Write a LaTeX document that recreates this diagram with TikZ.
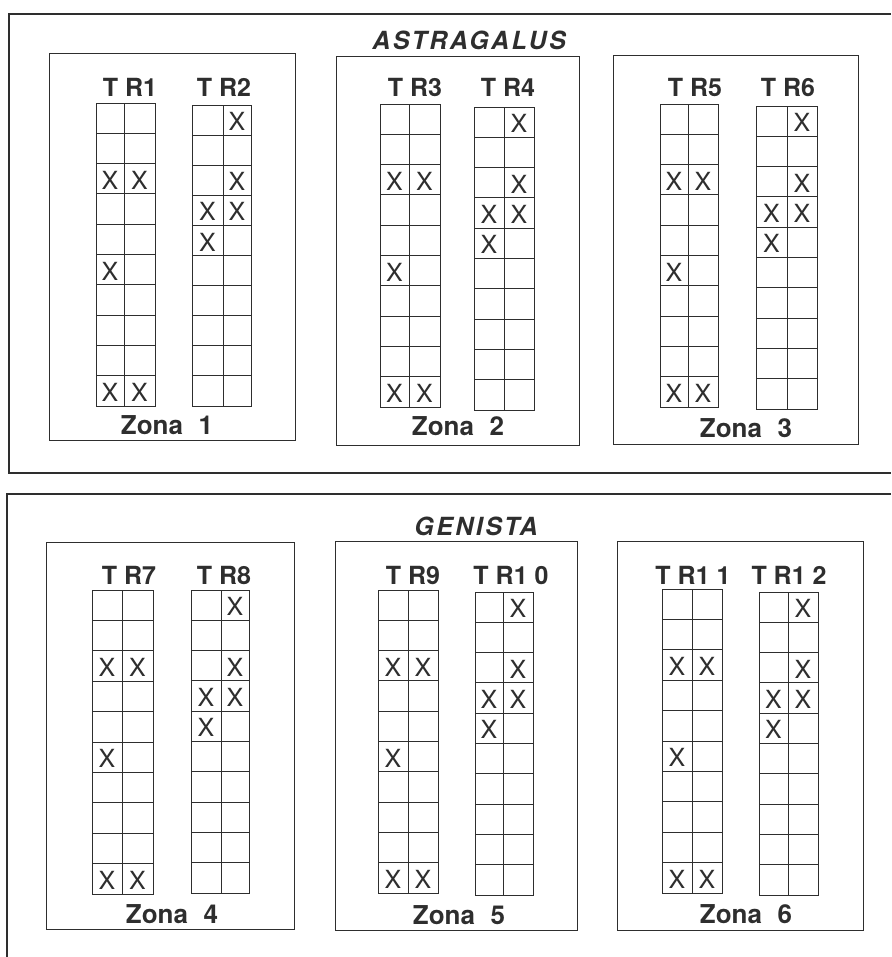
\documentclass[tikz,border=0pt]{standalone}
\usepackage{fontspec}
\setmainfont{TeX Gyre Heros}
\newfontfamily\titlefont[LetterSpace=10]{TeX Gyre Heros}
\definecolor{ink}{gray}{0.18}
\newcommand\trgrid[7]{%
  \pgfmathsetmacro\rh{(#6-#5)/10}%
  \foreach \i in {0,...,9}{%
    \draw[cellbox] (#2,{-#5-\i*\rh}) rectangle (#3,{-#5-(\i+1)*\rh});
    \draw[cellbox] (#3,{-#5-\i*\rh}) rectangle (#4,{-#5-(\i+1)*\rh});
  }%
  \foreach \r/\c in #7{%
    \pgfmathsetmacro\cx{ifthenelse(\c==0,(#2+#3)/2,(#3+#4)/2)}%
    \node[xmark] (#1-\r-\c) at (\cx,{-#5-(\r-0.45)*\rh}) {X};
  }%
}
\def\oddmarks{3/0,3/1,6/0,10/0,10/1}
\def\evenmarks{1/1,3/1,4/0,4/1,5/0}
\begin{document}
\begin{tikzpicture}[x=1pt,y=1pt,
  framebox/.style={draw=ink,line width=1.1pt},
  zonebox/.style={draw=ink,line width=1pt},
  cellbox/.style={draw=ink,line width=0.9pt},
  xmark/.style={inner sep=0pt,font=\fontsize{25}{25}\selectfont,text=ink},
  trlabel/.style={inner sep=0pt,anchor=base,font=\bfseries\fontsize{25}{25}\selectfont,text=ink},
  zonalabel/.style={inner sep=0pt,anchor=base,font=\bfseries\fontsize{26}{26}\selectfont,text=ink},
  titlelabel/.style={inner sep=0pt,anchor=base,font=\titlefont\bfseries\itshape\fontsize{25}{25}\selectfont,text=ink}]
\useasboundingbox (0,0) rectangle (891,-957);
% outer frames
\draw[framebox] (891,-14) -- (9,-14) -- (9,-473) -- (891,-473);
\draw[framebox] (891,-494) -- (7,-494) -- (7,-957);
% titles
\node[titlelabel] (tastr) at (469,-50) {ASTRAGALUS};
\node[titlelabel] (tgen) at (476,-535) {GENISTA};
% zone boxes
\draw[zonebox] (49,-54) rectangle (295,-440);
\draw[zonebox] (336,-57) rectangle (579,-445);
\draw[zonebox] (613,-56) rectangle (858,-444);
\draw[zonebox] (46,-542) rectangle (294,-929);
\draw[zonebox] (335,-541) rectangle (577,-930);
\draw[zonebox] (617,-541) rectangle (863,-930);
% grids
\trgrid{tr1}{96}{124}{155}{103}{406}{\oddmarks}
\trgrid{tr2}{192}{223}{251}{105}{406}{\evenmarks}
\trgrid{tr3}{380}{409}{440}{104}{407}{\oddmarks}
\trgrid{tr4}{474}{504}{534}{107}{410}{\evenmarks}
\trgrid{tr5}{660}{688}{718}{104}{407}{\oddmarks}
\trgrid{tr6}{756}{787}{817}{106}{409}{\evenmarks}
\trgrid{tr7}{92}{122}{153}{590}{894}{\oddmarks}
\trgrid{tr8}{191}{221}{249}{590}{893}{\evenmarks}
\trgrid{tr9}{378}{408}{438}{590}{893}{\oddmarks}
\trgrid{tr10}{475}{503}{533}{592}{895}{\evenmarks}
\trgrid{tr11}{662}{692}{722}{589}{893}{\oddmarks}
\trgrid{tr12}{759}{788}{818}{592}{895}{\evenmarks}
% column labels
\node[trlabel] (l1) at (130,-97) {T R1};
\node[trlabel] (l2) at (224,-97) {T R2};
\node[trlabel] (l3) at (415,-97) {T R3};
\node[trlabel] (l4) at (508,-97) {T R4};
\node[trlabel] (l5) at (695,-97) {T R5};
\node[trlabel] (l6) at (788,-97) {T R6};
\node[trlabel] (l7) at (129,-584) {T R7};
\node[trlabel] (l8) at (224,-584) {T R8};
\node[trlabel] (l9) at (413,-584) {T R9};
\node[trlabel] (l10) at (511,-584) {T R1 0};
\node[trlabel] (l11) at (693,-584) {T R1 1};
\node[trlabel] (l12) at (789,-584) {T R1 2};
% zone labels
\node[zonalabel] (z1) at (167,-434) {Zona\hspace{0.6em}1};
\node[zonalabel] (z2) at (458,-435) {Zona\hspace{0.6em}2};
\node[zonalabel] (z3) at (746,-437) {Zona\hspace{0.6em}3};
\node[zonalabel] (z4) at (172,-923) {Zona\hspace{0.6em}4};
\node[zonalabel] (z5) at (459,-924) {Zona\hspace{0.6em}5};
\node[zonalabel] (z6) at (746,-923) {Zona\hspace{0.6em}6};
\end{tikzpicture}
\end{document}
